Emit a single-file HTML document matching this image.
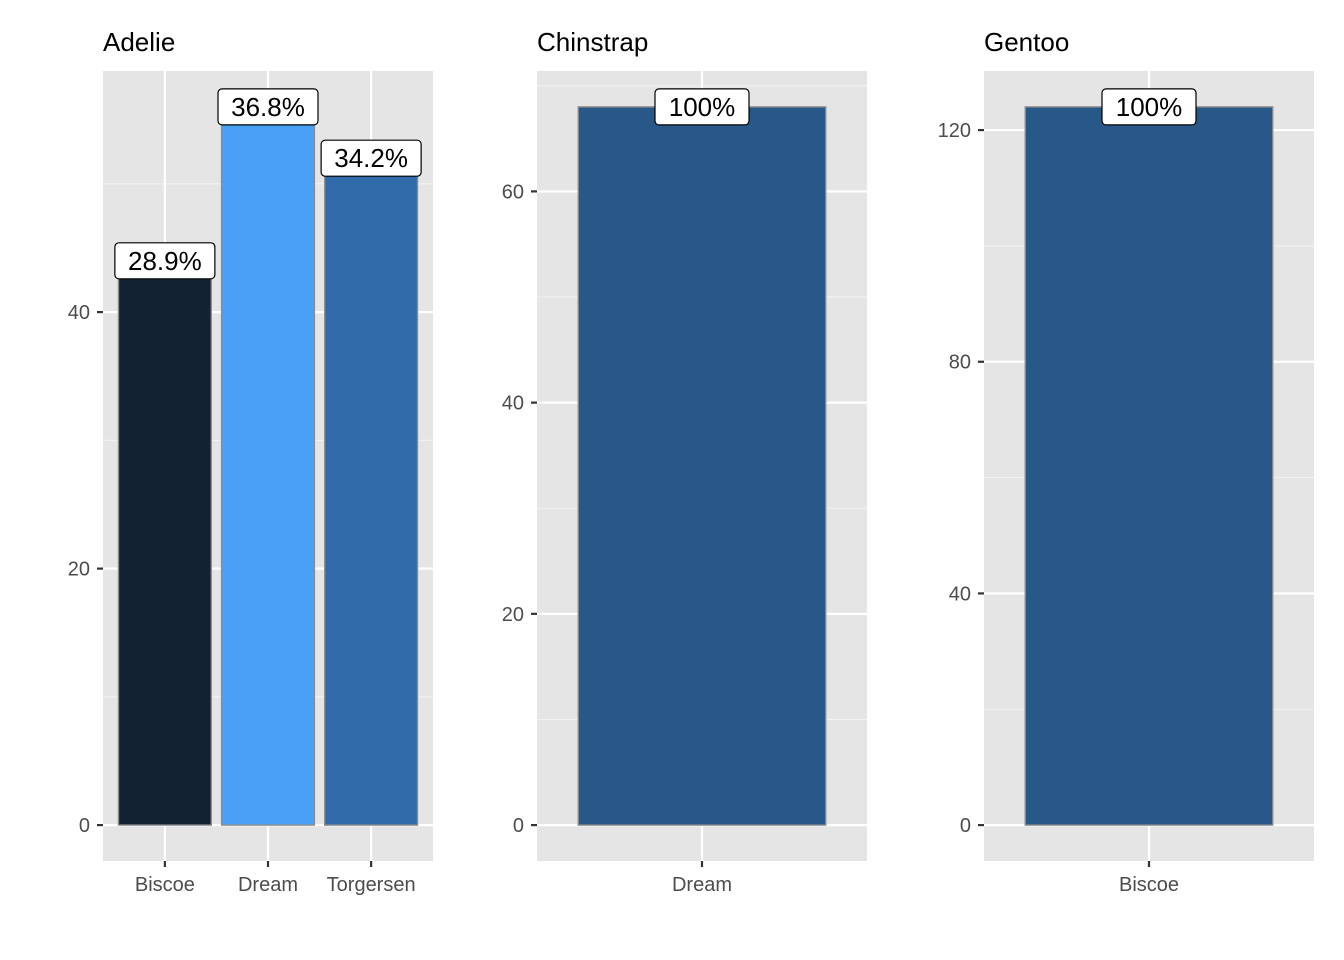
<!DOCTYPE html>
<html><head><meta charset="utf-8"><style>
html,body{margin:0;padding:0;background:#fff;width:1344px;height:960px;overflow:hidden}
svg{display:block;font-family:"Liberation Sans",Arial,sans-serif}
</style></head><body>
<svg id="chart" width="1344" height="960" viewBox="0 0 1344 960"></svg>
<script>
const species = ["Adelie", "Chinstrap", "Gentoo"];
const adelieIslands = ["Biscoe", "Dream", "Torgersen"];
const adelieCounts = [44, 56, 52];
const adelieLabels = ["28.9%", "36.8%", "34.2%"];
const chinstrapIslands = ["Dream"];
const chinstrapCounts = [68];
const chinstrapLabels = ["100%"];
const gentooIslands = ["Biscoe"];
const gentooCounts = [124];
const gentooLabels = ["100%"];
const adelieTicks = [0, 20, 40];
const chinstrapTicks = [0, 20, 40, 60];
const gentooTicks = [0, 40, 80, 120];

const colorMap = {Adelie:["#132233","#4aa0f5","#306aa8"], Chinstrap:["#285888"], Gentoo:["#285888"]};
const NS = "http://www.w3.org/2000/svg";
const svgEl = document.getElementById("chart");
function mk(tag, attrs, parent){
  const e = document.createElementNS(NS, tag);
  for (const k in attrs) e.setAttribute(k, attrs[k]);
  (parent||svgEl).appendChild(e);
  return e;
}
const panels = [
  {name:species[0], x0:103, cats:adelieIslands, vals:adelieCounts, labs:adelieLabels, ticks:adelieTicks},
  {name:species[1], x0:537, cats:chinstrapIslands, vals:chinstrapCounts, labs:chinstrapLabels, ticks:chinstrapTicks},
  {name:species[2], x0:984, cats:gentooIslands, vals:gentooCounts, labs:gentooLabels, ticks:gentooTicks}
];
const topY = 71, botY = 861, W = 330;
panels.forEach((p) => {
  const g = mk("g", {});
  
  
  const maxV = Math.max(...p.vals);
  const lo = -0.05*maxV, hi = maxV*1.05;
  const y = v => botY - (v - lo)/(hi - lo)*(botY - topY);
  const n = p.cats.length;
  const xlo = 0.4, xhi = n + 0.6;
  const x = c => p.x0 + (c - xlo)/(xhi - xlo)*W;
  const bg = mk("rect", {x:p.x0, y:topY, width:W, height:botY-topY, fill:"#e5e5e5"}, g);
  
  
  const step = p.ticks[1] - p.ticks[0];
  for (let i = 0; i < p.ticks.length; i++) {
    const m = p.ticks[i] + step/2;
    if (y(m) > topY) {
      const l = mk("line", {x1:p.x0, x2:p.x0+W, y1:y(m), y2:y(m), stroke:"#f2f2f2", "stroke-width":1.1}, g);
      
      
    }
  }
  p.ticks.forEach(t => {
    const l = mk("line", {x1:p.x0, x2:p.x0+W, y1:y(t), y2:y(t), stroke:"#fff", "stroke-width":2.2}, g);
    
    
    const tk = mk("line", {x1:p.x0-6, x2:p.x0, y1:y(t), y2:y(t), stroke:"#333", "stroke-width":2.2}, g);
    
    
    const tl = mk("text", {x:p.x0-13, y:y(t)+7, "text-anchor":"end", "font-size":20, fill:"#4d4d4d"}, g);
    tl.textContent = t;
    
    
  });
  p.cats.forEach((c, i) => {
    const cx = x(i+1);
    const l = mk("line", {x1:cx, x2:cx, y1:topY, y2:botY, stroke:"#fff", "stroke-width":2.2}, g);
    
    
  });
  p.cats.forEach((c, i) => {
    const cx = x(i+1), bw = x(i+1.45) - x(i+0.55);
    const b = mk("rect", {x:cx-bw/2, y:y(p.vals[i]), width:bw, height:y(0)-y(p.vals[i]), fill:colorMap[p.name][i], stroke:"#8c8c8c", "stroke-width":1.4}, g);
    
    
    const tk = mk("line", {x1:cx, x2:cx, y1:botY, y2:botY+6, stroke:"#333", "stroke-width":2.2}, g);
    
    
    const tl = mk("text", {x:cx, y:botY+30, "text-anchor":"middle", "font-size":20, fill:"#4d4d4d"}, g);
    tl.textContent = c;
    
    
    const lw = p.labs[i].length > 4 ? 100 : 94;
    const ly = y(p.vals[i]);
    const box = mk("rect", {x:cx-lw/2, y:ly-18, width:lw, height:36, rx:4, fill:"#fff", stroke:"#000", "stroke-width":1.2}, g);
    
    
    const lt = mk("text", {x:cx, y:ly+9, "text-anchor":"middle", "font-size":26, fill:"#000"}, g);
    lt.textContent = p.labs[i];
    
    
  });
  const title = mk("text", {x:p.x0, y:51, "font-size":26, fill:"#000"}, g);
  title.textContent = p.name;
  
  
});
</script>
</body></html>
